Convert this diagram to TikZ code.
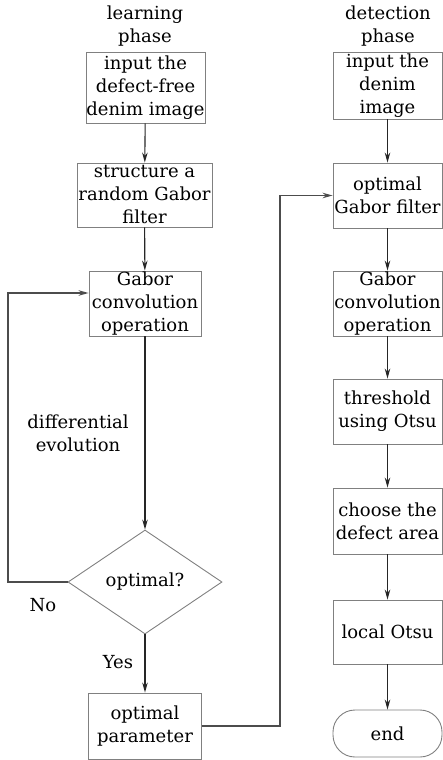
\documentclass[tikz,border=0pt]{standalone}
\usepackage{fontspec}
\setmainfont{DejaVu Serif}
\usetikzlibrary{shapes.geometric,arrows.meta}
\begin{document}
\begin{tikzpicture}[x=1pt,y=-1pt,
  txt/.style={align=center,inner sep=0pt,font=\fontsize{18}{23}\selectfont},
  box/.style={txt,draw=black!50,line width=0.9pt},
  conn/.style={line width=1.1pt,draw=black!85,-{Stealth[length=10pt,width=5.5pt]}},
  feed/.style={line width=1.3pt,draw=black!70,-{Stealth[length=10pt,width=5.5pt]}}]
\useasboundingbox (0,0) rectangle (443,760);
% left column
\node[txt] (lph) at (145,26) {learning\\phase};
\node[box,minimum width=119pt,minimum height=71pt] (b1) at (145.5,87.5) {input the\\defect-free\\denim image};
\node[box,minimum width=135pt,minimum height=64pt] (b2) at (144.5,195) {structure a\\random Gabor\\filter};
\node[box,minimum width=112pt,minimum height=65pt] (b3) at (145,303.5) {Gabor\\convolution\\operation};
\node[box,diamond,aspect=1.5,minimum width=154pt,minimum height=104pt] (dia) at (145,582) {optimal?};
\node[box,minimum width=113pt,minimum height=66pt] (b4) at (145,726) {optimal\\parameter};
\node[txt] (de) at (78,433) {differential\\evolution};
\node[txt] (no) at (43,605) {No};
\node[txt] (yes) at (118,662) {Yes};
% right column
\node[txt] (dph) at (388,26) {detection\\phase};
\node[box,minimum width=109pt,minimum height=67pt] (r1) at (387.5,85.5) {input the\\denim\\image};
\node[box,minimum width=109pt,minimum height=65pt] (r2) at (387.5,195.5) {optimal\\Gabor filter};
\node[box,minimum width=109pt,minimum height=65pt] (r3) at (387.5,303.5) {Gabor\\convolution\\operation};
\node[box,minimum width=109pt,minimum height=65pt] (r4) at (387.5,411.5) {threshold\\using Otsu};
\node[box,minimum width=109pt,minimum height=66pt] (r5) at (387.5,521) {choose the\\defect area};
\node[box,minimum width=109pt,minimum height=64pt] (r6) at (387.5,632) {local Otsu};
\node[box,rounded corners=22pt,minimum width=109pt,minimum height=47pt] (r7) at (387.5,733.5) {end};
% connectors
\draw[conn] (b1) -- (b2);
\draw[conn] (b2) -- (b3);
\draw[conn] (b3) -- (dia);
\draw[conn] (dia) -- (b4);
\coordinate (lp) at (8,293);
\draw[feed] (dia.west) -| (lp) -- (b3.west |- lp);
\coordinate (fb) at (280,400);
\draw[feed] (b4.east) -| (fb) |- (r2.west);
\draw[conn] (r1) -- (r2);
\draw[conn] (r2) -- (r3);
\draw[conn] (r3) -- (r4);
\draw[conn] (r4) -- (r5);
\draw[conn] (r5) -- (r6);
\draw[conn] (r6) -- (r7);
\end{tikzpicture}
\end{document}
